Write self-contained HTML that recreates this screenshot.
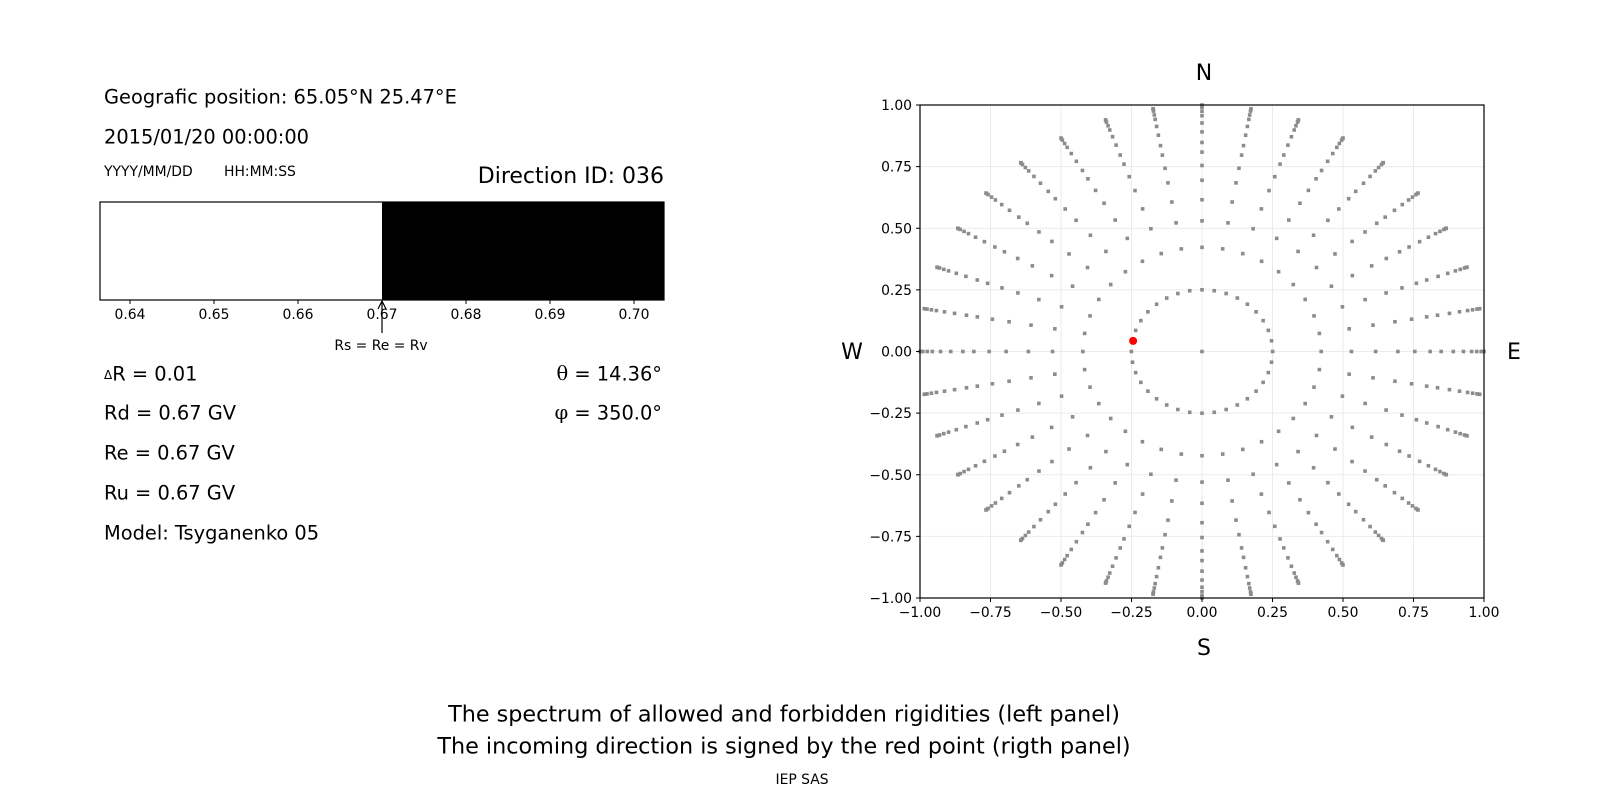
<!DOCTYPE html>
<html><head><meta charset="utf-8"><style>
html,body{margin:0;padding:0;background:#fff;}
svg{display:block;font-family:"DejaVu Sans","Liberation Sans",sans-serif;}
</style></head><body>
<svg id="s" width="1600" height="800" viewBox="0 0 1600 800" xmlns="http://www.w3.org/2000/svg">
<rect width="1600" height="800" fill="#fff"/>
<text x="104" y="98" font-size="19.4" dominant-baseline="middle">Geografic position: 65.05°N 25.47°E</text>
<text x="104" y="138" font-size="19.4" dominant-baseline="middle">2015/01/20 00:00:00</text>
<text x="104" y="172" font-size="13.9" dominant-baseline="middle">YYYY/MM/DD</text>
<text x="224" y="172" font-size="13.9" dominant-baseline="middle">HH:MM:SS</text>
<text x="664" y="177" font-size="22" text-anchor="end" dominant-baseline="middle">Direction ID: 036</text>
<rect x="100" y="202" width="564" height="98" fill="#fff" stroke="#000" stroke-width="1.2"/>
<rect x="382" y="202" width="282" height="98" fill="#000"/>
<g font-size="13.9" text-anchor="middle">
<line x1="130" y1="300" x2="130" y2="304" stroke="#000"/><text x="130" y="319">0.64</text>
<line x1="214" y1="300" x2="214" y2="304" stroke="#000"/><text x="214" y="319">0.65</text>
<line x1="298" y1="300" x2="298" y2="304" stroke="#000"/><text x="298" y="319">0.66</text>
<line x1="382" y1="300" x2="382" y2="304" stroke="#000"/><text x="382" y="319">0.67</text>
<line x1="466" y1="300" x2="466" y2="304" stroke="#000"/><text x="466" y="319">0.68</text>
<line x1="550" y1="300" x2="550" y2="304" stroke="#000"/><text x="550" y="319">0.69</text>
<line x1="634" y1="300" x2="634" y2="304" stroke="#000"/><text x="634" y="319">0.70</text>
<text x="381" y="350">Rs = Re = Rv</text>
</g>
<line x1="382" y1="333" x2="382" y2="302" stroke="#000" stroke-width="1.2"/>
<path d="M378 309 L382 301 L386 309" fill="none" stroke="#000" stroke-width="1.2"/>
<g font-size="19.4" dominant-baseline="middle">
<text x="104" y="375"><tspan font-size="12">Δ</tspan>R = 0.01</text>
<text x="104" y="414">Rd = 0.67 GV</text>
<text x="104" y="454">Re = 0.67 GV</text>
<text x="104" y="494">Ru = 0.67 GV</text>
<text x="104" y="534">Model: Tsyganenko 05</text>
<text x="662" y="375" text-anchor="end"><tspan font-family="'DejaVu Serif',serif">θ</tspan> = 14.36°</text>
<text x="662" y="414" text-anchor="end"><tspan font-family="'DejaVu Serif',serif">φ</tspan> = 350.0°</text>
</g>
<g id="grid" stroke="#ebebeb" stroke-width="1"></g>
<g id="pts" fill="#8c8c8c"></g>
<rect x="920" y="105" width="564" height="493" fill="none" stroke="#000" stroke-width="1.2"/>
<g id="ticks" font-size="13.9"></g>
<g font-size="22" text-anchor="middle" dominant-baseline="middle">
<text x="1204" y="74">N</text><text x="1204" y="649">S</text>
<text x="852" y="353">W</text><text x="1514" y="353">E</text>
<text x="784" y="715" font-size="22.3">The spectrum of allowed and forbidden rigidities (left panel)</text>
<text x="784" y="747" font-size="22.3">The incoming direction is signed by the red point (rigth panel)</text>
<text x="802" y="780" font-size="13.9">IEP SAS</text>
</g>
<circle id="red" r="4" fill="#ff0000"/>
</svg>
<script>
var NS="http://www.w3.org/2000/svg";
var cx=1202,cy=351.5,sx=282,sy=246.5;
function el(t,a,p){var e=document.createElementNS(NS,t);for(var k in a)e.setAttribute(k,a[k]);if(p)p.appendChild(e);return e;}
var g=document.getElementById('grid'),tk=document.getElementById('ticks'),pts=document.getElementById('pts');
var vals=[-1,-0.75,-0.5,-0.25,0,0.25,0.5,0.75,1];
vals.forEach(function(v){
 var x=cx+v*sx,y=cy-v*sy;
 el('line',{x1:x,y1:105,x2:x,y2:598},g);el('line',{x1:920,y1:y,x2:1484,y2:y},g);
 el('line',{x1:x,y1:598,x2:x,y2:602,stroke:'#000'},tk);
 el('line',{x1:916,y1:y,x2:920,y2:y,stroke:'#000'},tk);
 var s=(v<0?'\u2212':'')+Math.abs(v).toFixed(2);
 var t=el('text',{x:x,y:617,'text-anchor':'middle'},tk);t.textContent=s;
 var t2=el('text',{x:912,y:y+5,'text-anchor':'end'},tk);t2.textContent=s;
});
var th=[14.5,25,32,38,44,49,54,58,63,68,73,77,82,86,90];
el('rect',{x:cx-1.8,y:cy-1.8,width:3.6,height:3.6},pts);
for(var a=0;a<360;a+=10){
 var ph=a*Math.PI/180;
 th.forEach(function(t){var r=Math.sin(t*Math.PI/180);
  var x=cx+r*Math.cos(ph)*sx,y=cy-r*Math.sin(ph)*sy;
  el('rect',{x:x-1.8,y:y-1.8,width:3.6,height:3.6},pts);});
}
var r=Math.sin(14.36*Math.PI/180),p=350*Math.PI/180;
var rd=document.getElementById('red');rd.setAttribute('cx',cx-r*Math.cos(p)*sx);rd.setAttribute('cy',cy+r*Math.sin(p)*sy);
</script>
</body></html>
